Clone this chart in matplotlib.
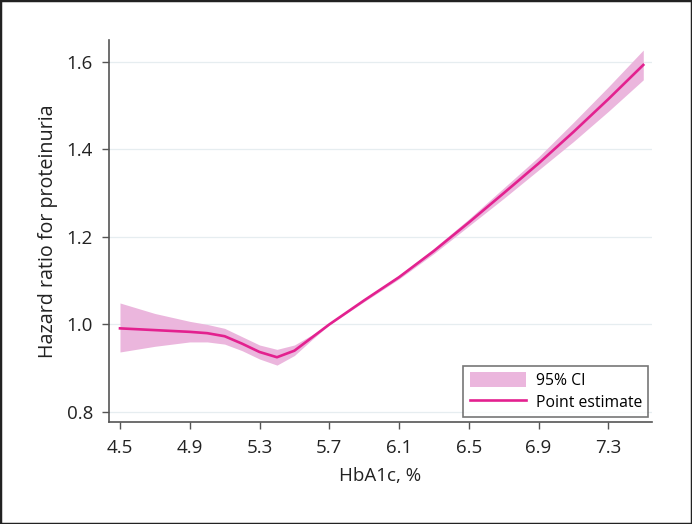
import matplotlib
matplotlib.use("Agg")
import matplotlib.pyplot as plt
from matplotlib.patches import Rectangle

plt.rcParams['font.family'] = ['Open Sans', 'DejaVu Sans']

hba1c = [4.5, 4.7, 4.9, 5.0, 5.1, 5.2, 5.3, 5.4, 5.5, 5.6, 5.7, 5.9, 6.1, 6.3, 6.5, 6.7, 6.9, 7.1, 7.3, 7.5]
hr = [0.991, 0.987, 0.983, 0.980, 0.973, 0.956, 0.937, 0.925, 0.940, 0.970, 1.000, 1.055, 1.108, 1.168, 1.233, 1.300, 1.368, 1.440, 1.515, 1.593]
ci_low = [0.937, 0.950, 0.960, 0.960, 0.955, 0.940, 0.921, 0.907, 0.929, 0.965, 0.999, 1.052, 1.104, 1.162, 1.225, 1.288, 1.353, 1.418, 1.487, 1.559]
ci_high = [1.049, 1.025, 1.007, 1.000, 0.991, 0.972, 0.953, 0.943, 0.953, 0.976, 1.001, 1.058, 1.112, 1.174, 1.241, 1.312, 1.383, 1.462, 1.543, 1.627]

xticks = [4.5, 4.9, 5.3, 5.7, 6.1, 6.5, 6.9, 7.3]
yticks = [0.8, 1.0, 1.2, 1.4, 1.6]

fig = plt.figure(figsize=(6.92, 5.24), dpi=100)
ax = fig.add_axes([109/692, 1 - 422/524, (652-109)/692, (422-40)/524])

line_color = '#e3218f'
fill_color = '#ebb6dd'

ax.fill_between(hba1c, ci_low, ci_high, color=fill_color, linewidth=0, label='95% CI', zorder=2)
ax.plot(hba1c, hr, color=line_color, linewidth=1.9, label='Point estimate', zorder=3)

ax.set_xlim(4.437, 7.55)
ax.set_ylim(0.777, 1.65)
ax.set_xticks(xticks)
ax.set_xticklabels([f'{v:.1f}' for v in xticks])
ax.set_yticks(yticks)
ax.set_yticklabels([f'{v:.1f}' for v in yticks])
ax.grid(axis='y', color='#e6edf0', linewidth=0.9, zorder=0)
ax.set_axisbelow(True)

for s in ['top', 'right']:
    ax.spines[s].set_visible(False)
for s in ['left', 'bottom']:
    ax.spines[s].set_color('#555555')
    ax.spines[s].set_linewidth(1.2)
ax.tick_params(axis='both', colors='#555555', length=5, width=1.0, labelsize=13.5, labelcolor='#222222')
ax.tick_params(axis='x', pad=7.5)
ax.tick_params(axis='y', pad=6.5)

ax.set_xlabel('HbA1c, %', fontsize=13.5, color='#222222', labelpad=7)
ax.set_ylabel('Hazard ratio for proteinuria', fontsize=14.2, color='#222222', labelpad=6.5)

leg = ax.legend(loc='lower right', frameon=True, fancybox=False, fontsize=11.3,
                edgecolor='#555555', borderpad=0.4, handlelength=3.6, handleheight=1.15,
                labelspacing=0.3, handletextpad=0.6, borderaxespad=0,
                bbox_to_anchor=(0.993, 0.013))
leg.get_frame().set_linewidth(1.2)

fig.patches.append(Rectangle((0, 0), 1, 1, transform=fig.transFigure, fill=False,
                             edgecolor='#222222', linewidth=2.5, zorder=10))

fig.savefig('out.png', dpi=100, facecolor='white')
